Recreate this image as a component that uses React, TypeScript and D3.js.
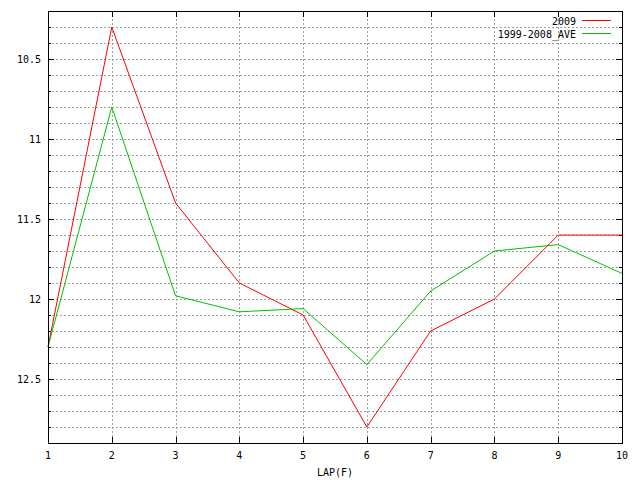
import { scaleLinear, line, range } from "d3";

const laps = [1, 2, 3, 4, 5, 6, 7, 8, 9, 10];
const times2009 = [12.3, 10.3, 11.4, 11.9, 12.1, 12.8, 12.2, 12.0, 11.6, 11.6];
const timesAve = [12.3, 10.8, 11.98, 12.08, 12.06, 12.41, 11.95, 11.7, 11.66, 11.84];
const yMajor = [10.5, 11, 11.5, 12, 12.5];
const seriesNames = ["2009", "1999-2008_AVE"];
const seriesColors = ["#ff0000", "#00c000"];

const W = 640;
const H = 480;
const left = 48;
const right = 622;
const top = 11;
const bottom = 443;
const font = "'DejaVu Sans Mono', monospace";

function App() {
    const x = scaleLinear().domain([1, 10]).range([left, right]);
    const y = scaleLinear().domain([10.2, 12.9]).range([top, bottom]);

    // minor steps every 0.1
    const minor = range(103, 129).map((v) => v / 10);

    const series = [times2009, timesAve];
    const path = line<number>()
        .x((_, i) => x(laps[i]))
        .y((d) => y(d));

    return (
        <svg
            width={W}
            height={H}
            style={{ position: "fixed", top: 0, left: 0, background: "#fff" }}
        >
            <rect width={W} height={H} fill="#fff" />
            {/* grid */}
            <g stroke="#a0a0a0" strokeDasharray="2,2" shapeRendering="crispEdges">
                {minor.map((v) => (
                    <line key={"h" + v} x1={left} x2={right} y1={Math.round(y(v)) + 0.5} y2={Math.round(y(v)) + 0.5} />
                ))}
                {laps.slice(1, -1).map((v) => (
                    <line key={"v" + v} x1={Math.round(x(v)) + 0.5} x2={Math.round(x(v)) + 0.5} y1={top} y2={bottom} />
                ))}
            </g>
            {/* ticks */}
            <g stroke="#000" shapeRendering="crispEdges">
                {minor.map((v) => {
                    const yy = Math.round(y(v)) + 0.5;
                    const len = yMajor.includes(v) ? 6 : 3;
                    return (
                        <g key={"t" + v}>
                            <line x1={left} x2={left + len} y1={yy} y2={yy} />
                            <line x1={right - len} x2={right} y1={yy} y2={yy} />
                        </g>
                    );
                })}
                {laps.map((v) => {
                    const xx = Math.round(x(v)) + 0.5;
                    return (
                        <g key={"xt" + v}>
                            <line x1={xx} x2={xx} y1={bottom} y2={bottom - 6} />
                            <line x1={xx} x2={xx} y1={top} y2={top + 6} />
                        </g>
                    );
                })}
            </g>
            {/* data */}
            <g fill="none" strokeWidth={1}>
                {series.map((s, i) => (
                    <path key={i} d={path(s) || ""} stroke={seriesColors[i]} />
                ))}
            </g>
            {/* frame */}
            <rect
                x={left + 0.5}
                y={top + 0.5}
                width={right - left}
                height={bottom - top}
                fill="none"
                stroke="#000"
                shapeRendering="crispEdges"
            />
            {/* labels */}
            <g fontFamily={font} fontSize={10} fill="#000">
                {yMajor.map((v) => (
                    <text key={"yl" + v} x={41} y={y(v)} dy="0.35em" textAnchor="end">
                        {String(v)}
                    </text>
                ))}
                {laps.map((v) => (
                    <text key={"xl" + v} x={x(v)} y={459} textAnchor="middle">
                        {String(v)}
                    </text>
                ))}
                <text x={(left + right) / 2} y={476} textAnchor="middle">
                    LAP(F)
                </text>
                {seriesNames.map((n, i) => (
                    <g key={n}>
                        <text x={576} y={21 + i * 13} dy="0.35em" textAnchor="end">
                            {n}
                        </text>
                        <line
                            x1={582}
                            x2={611}
                            y1={20.5 + i * 13}
                            y2={20.5 + i * 13}
                            stroke={seriesColors[i]}
                            shapeRendering="crispEdges"
                        />
                    </g>
                ))}
            </g>
        </svg>
    );
}

export default App;
